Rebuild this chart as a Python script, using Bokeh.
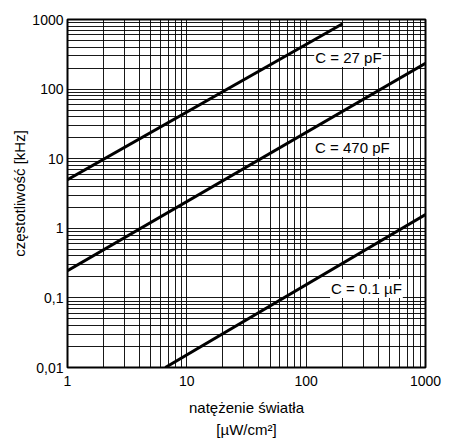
from bokeh.plotting import figure
from bokeh.models import Range1d, FixedTicker, Label, Title
from bokeh.embed import file_html
from bokeh.resources import INLINE

# data
c27_x = [1, 202]
c27_y = [5.0, 870]
c470_x = [1, 1000]
c470_y = [0.245, 234]
c01_x = [6.6, 1000]
c01_y = [0.01, 1.58]

x_ticks = [1, 10, 100, 1000]
y_ticks = [0.01, 0.1, 1, 10, 100, 1000]
y_tick_labels = ["0,01", "0,1", "1", "10", "100", "1000"]
labels = ["C = 27 pF", "C = 470 pF", "C = 0.1 \u00b5F"]

FONT = "Liberation Sans"

p = figure(width=456, height=438, x_axis_type="log", y_axis_type="log",
           x_range=Range1d(1, 1000), y_range=Range1d(0.01, 1000),
           output_backend="svg", toolbar_location=None,
           min_border_left=67, min_border_right=31, min_border_top=19, min_border_bottom=71)

def minors(majors):
    out = []
    for m in majors[:-1]:
        for k in range(2, 10):
            out.append(m * k)
    return out

p.xaxis.ticker = FixedTicker(ticks=x_ticks, minor_ticks=minors(x_ticks))
p.yaxis.ticker = FixedTicker(ticks=y_ticks, minor_ticks=minors(y_ticks))
p.yaxis.major_label_overrides = {t: s for t, s in zip(y_ticks, y_tick_labels)}
p.xaxis.major_label_overrides = {t: str(t) for t in x_ticks}

for g in (p.xgrid, p.ygrid):
    g.grid_line_color = "black"
    g.grid_line_width = 1
    g.grid_line_alpha = 0.9
    g.minor_grid_line_color = "black"
    g.minor_grid_line_width = 1
    g.minor_grid_line_alpha = 0.9

for ax in (p.xaxis, p.yaxis):
    ax.axis_line_color = None
    ax.major_tick_line_color = None
    ax.minor_tick_line_color = None
    ax.major_tick_out = 0
    ax.minor_tick_out = 0
    ax.major_label_text_font = FONT
    ax.major_label_text_font_size = "14px"
    ax.major_label_text_color = "black"
    ax.axis_label_text_font = FONT
    ax.axis_label_text_font_size = "15px"
    ax.axis_label_text_font_style = "normal"
    ax.axis_label_text_color = "black"

p.xaxis.major_label_standoff = 8
p.yaxis.major_label_standoff = 4
p.xaxis.axis_label = "nat\u0119\u017cenie \u015bwiat\u0142a"
p.yaxis.axis_label = "cz\u0119stotliwo\u015b\u0107 [kHz]"
p.xaxis.axis_label_standoff = 10
p.yaxis.axis_label_standoff = 1

p.add_layout(Title(text="[\u00b5W/cm\u00b2]", align="center", text_font=FONT,
                   text_font_size="15px", text_font_style="normal",
                   text_color="black", standoff=0), "below")

p.outline_line_color = "black"
p.outline_line_width = 2
p.background_fill_color = "white"

for xs, ys in ((c27_x, c27_y), (c470_x, c470_y), (c01_x, c01_y)):
    p.line(xs, ys, line_color="black", line_width=3)

label_pos = [(226, 284), (244, 14.5), (320, 0.136)]
for (lx, ly), t in zip(label_pos, labels):
    p.add_layout(Label(x=lx, y=ly, text=t, text_align="center", text_baseline="middle",
                       text_font=FONT, text_font_size="15px", text_color="black",
                       background_fill_color="white", padding=1))

open("out.html", "w").write(file_html(p, INLINE))
